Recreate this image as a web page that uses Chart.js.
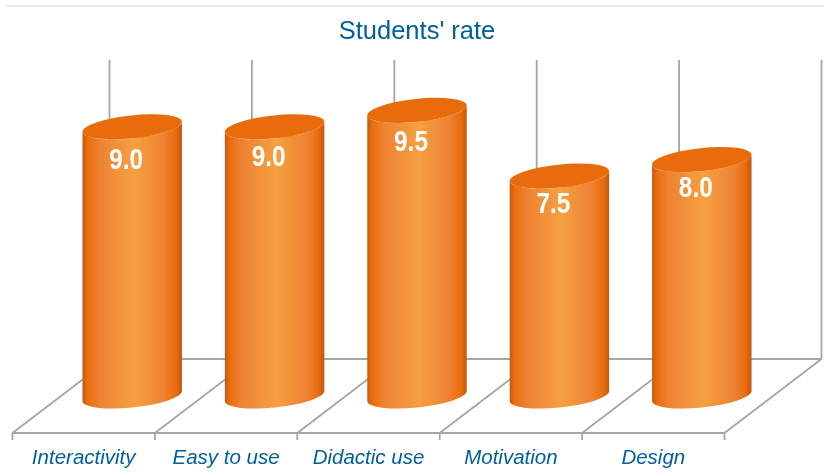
<!DOCTYPE html>
<html>
<head>
<meta charset="utf-8">
<style>
  html, body { margin: 0; padding: 0; background: #fff; }
  #wrap { position: relative; width: 824px; height: 476px; }
</style>
</head>
<body>
<div id="wrap"><canvas id="bars"></canvas></div>
<script src="https://cdn.jsdelivr.net/npm/chart.js@4"></script>
<script>
const categories = ["Interactivity", "Easy to use", "Didactic use", "Motivation", "Design"];
const rates = [9.0, 9.0, 9.5, 7.5, 8.0];

// value text sits a little differently on each cylinder
const labelDrop = [34, 31, 33, 29, 29];

const axisMin = 0.8;
const axisMax = 10;

const depthX = 48.5;
const depthY = 37;
const wallRise = 34;
const capRy = 11.5;
const capTilt = -6 * Math.PI / 180;

function cylinder(ctx, bar) {
  const rx = bar.width / 2;
  const left = bar.x - rx, right = bar.x + rx;
  const t = Math.atan(-capRy / rx * Math.tan(capTilt));
  const g = ctx.createLinearGradient(left, 0, right, 0);
  g.addColorStop(0, "#c4580f");
  g.addColorStop(0.05, "#e96c0c");
  g.addColorStop(0.17, "#ee8233");
  g.addColorStop(0.52, "#f6a040");
  g.addColorStop(0.82, "#ee8233");
  g.addColorStop(0.94, "#e96c0c");
  g.addColorStop(1, "#bf5510");
  ctx.fillStyle = g;
  ctx.beginPath();
  ctx.ellipse(bar.x, bar.base, rx, capRy, capTilt, t, t + Math.PI);
  ctx.ellipse(bar.x, bar.y, rx, capRy, capTilt, t + Math.PI, t, true);
  ctx.closePath();
  ctx.fill();
  ctx.fillStyle = "#e96c0c";
  ctx.beginPath();
  ctx.ellipse(bar.x, bar.y, rx, capRy, capTilt, 0, Math.PI * 2);
  ctx.fill();
}

const stage = {
  id: "stage",
  beforeDatasetsDraw(chart) {
    const ctx = chart.ctx, xs = chart.scales.x, area = chart.chartArea;
    const step = xs.getPixelForValue(1) - xs.getPixelForValue(0);
    const front = area.bottom + depthY, back = area.bottom - depthY;
    const wallTop = area.top - wallRise;
    ctx.save();
    // thin rule along the top of the picture
    ctx.strokeStyle = "#e6e6e6";
    ctx.lineWidth = 1.5;
    ctx.beginPath();
    ctx.moveTo(5, 6);
    ctx.lineTo(chart.width, 6);
    ctx.stroke();
    ctx.strokeStyle = "#a6a6a6";
    ctx.lineWidth = 1.8;
    ctx.beginPath();
    ctx.moveTo(area.left - depthX, front);
    ctx.lineTo(area.right - depthX, front);
    ctx.moveTo(area.left + depthX, back);
    ctx.lineTo(area.right + depthX, back);
    for (let i = 0; i <= categories.length; i++) {
      const x = area.left + i * step;
      ctx.moveTo(x - depthX, front + 7);
      ctx.lineTo(x - depthX, front);
      ctx.lineTo(x + depthX, back);
      ctx.lineTo(x + depthX, wallTop);
    }
    ctx.stroke();
    ctx.restore();
  },
  beforeDatasetDraw(chart) {
    const ctx = chart.ctx;
    ctx.save();
    chart.getDatasetMeta(0).data.forEach((bar, i) => {
      cylinder(ctx, bar);
      // reference digits are condensed, no narrow font here so squeeze them
      ctx.save();
      ctx.translate(bar.x - 6, bar.y + labelDrop[i]);
      ctx.scale(0.84, 1);
      ctx.fillStyle = "#fff";
      ctx.font = "bold 29px 'Liberation Sans'";
      ctx.textAlign = "center";
      ctx.textBaseline = "middle";
      ctx.fillText(rates[i].toFixed(1), 0, 0);
      ctx.restore();
    });
    ctx.restore();
    return false;
  }
};

new Chart(document.getElementById("bars"), {
  type: "bar",
  data: {
    labels: categories,
    datasets: [{
      label: "Students' rate",
      data: rates,
      base: axisMin,
      backgroundColor: "#e96c0c",
      barPercentage: 0.702,
      categoryPercentage: 1
    }]
  },
  options: {
    responsive: true,
    maintainAspectRatio: false,
    animation: false,
    layout: { padding: { left: 61, right: 51, top: 0, bottom: 0 } },
    plugins: {
      legend: { display: false },
      tooltip: { enabled: false },
      title: {
        display: true,
        text: "Students' rate",
        color: "#00609c",
        font: { family: "'Liberation Sans'", size: 25.5, weight: "normal" },
        padding: { top: 17, bottom: 46.4 }
      }
    },
    scales: {
      x: {
        afterFit(scale) { scale.height = 80; },
        grid: { display: false },
        border: { display: false },
        ticks: {
          color: "#00609c",
          font: { family: "'Liberation Sans'", size: 20.5, style: "italic" },
          padding: 42,
          labelOffset: -depthX,
          maxRotation: 0
        }
      },
      y: { display: false, min: axisMin, max: axisMax }
    }
  },
  plugins: [stage]
});
</script>
</body>
</html>
